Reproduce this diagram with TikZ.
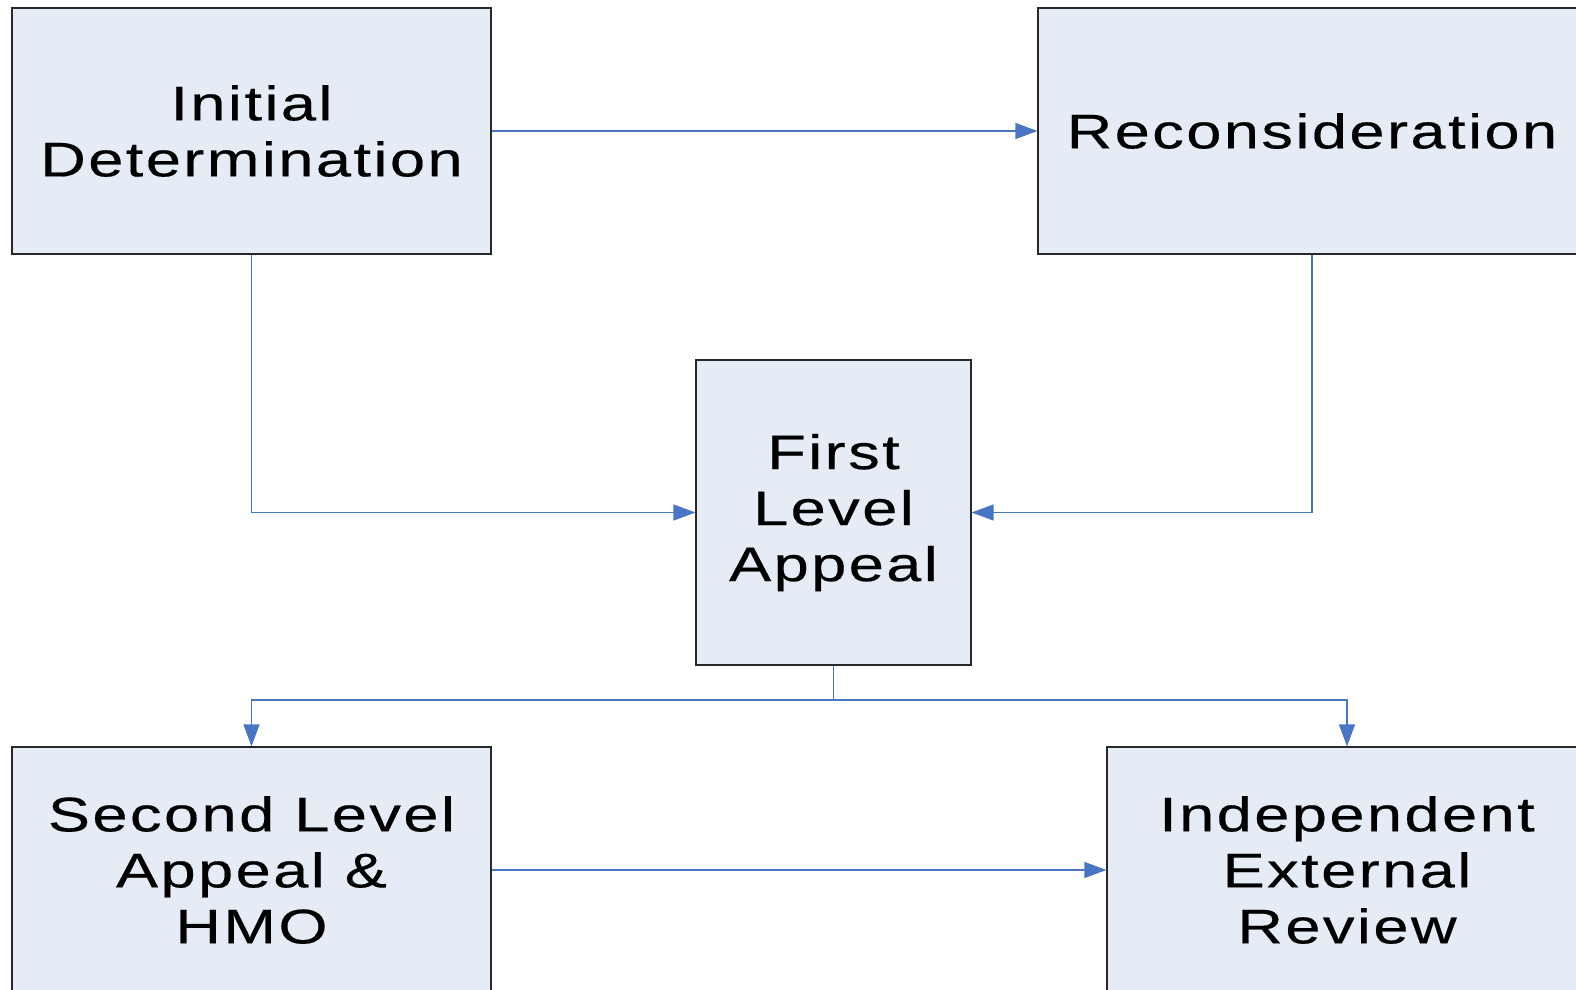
\documentclass[tikz,border=0pt]{standalone}
\usepackage{fontspec}
\newfontfamily\boxfont{Liberation Sans}[FakeStretch=1.3,LetterSpace=5,FakeBold=0.4]
\usetikzlibrary{arrows.meta}
\definecolor{boxfill}{RGB}{230,236,246}
\definecolor{boxline}{RGB}{40,40,40}
\definecolor{conn}{RGB}{72,118,196}
\tikzset{
  stepbox/.style={draw=boxline, line width=0.6pt, fill=boxfill, inner sep=0pt,
    align=center, font=\boxfont\fontsize{24.3pt}{28pt}\selectfont},
  conline/.style={draw=conn, line width=0.65pt},
  conarrow/.style={conline, -{Triangle[length=11pt,width=8pt]}}
}
\begin{document}
\begin{tikzpicture}[x=0.5pt,y=-0.5pt]
\useasboundingbox (0,0) rectangle (1576,990);
\node[stepbox, minimum width=239.5pt, minimum height=123pt] (ID) at (251.5,131) {Initial\\Determination};
\node[stepbox, minimum width=274pt, minimum height=123pt] (RC) at (1312,131) {Reconsideration};
\node[stepbox, minimum width=137.5pt, minimum height=152.5pt] (FL) at (833.5,512.5) {First\\Level\\Appeal};
\node[stepbox, minimum width=239.5pt, minimum height=123pt] (SL) at (251.5,870) {Second Level\\Appeal \&\\HMO};
\node[stepbox, minimum width=240pt, minimum height=123pt] (IE) at (1347,870) {Independent\\External\\Review};
\coordinate (J) at (833.5,700);
\draw[conarrow] (ID.east) -- (RC.west);
\draw[conarrow] (ID.south) |- (FL.west);
\draw[conarrow] (RC.south) |- (FL.east);
\draw[conline] (FL.south) -- (J);
\draw[conarrow] (J) -| (SL.north);
\draw[conarrow] (J) -| (IE.north);
\draw[conarrow] (SL.east) -- (IE.west);
\end{tikzpicture}
\end{document}
